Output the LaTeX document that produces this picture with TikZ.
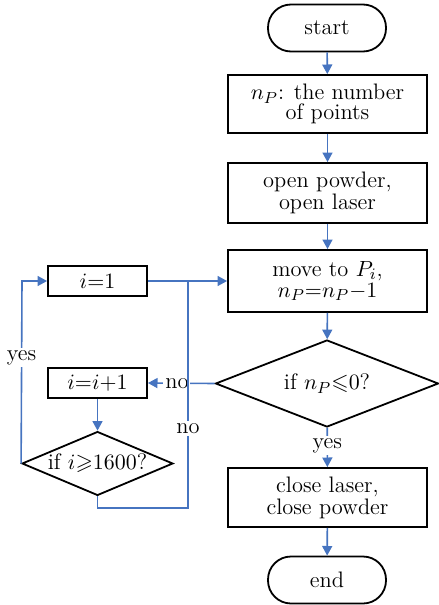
\documentclass[tikz,border=0pt]{standalone}
\usepackage{amssymb}
\usetikzlibrary{shapes.geometric,arrows.meta}
\definecolor{flow}{RGB}{70,116,192}
\begin{document}
\begin{tikzpicture}[x=0.5pt,y=-0.5pt,
  every node/.style={font=\fontsize{11.2}{9.8}\selectfont,align=center,inner sep=0pt},
  term/.style={draw,line width=0.9pt,rounded corners=11.5pt,minimum width=59pt,minimum height=23.5pt},
  proc/.style={draw,line width=0.9pt,minimum width=99.5pt},
  smallproc/.style={draw,line width=0.9pt,minimum width=49.5pt,minimum height=15pt},
  decide/.style={draw,line width=0.9pt,diamond,aspect=2.2},
  link/.style={draw=flow,line width=0.8pt},
  arr/.style={link,-{Triangle[width=5pt,length=4.8pt]}},
  lbl/.style={fill=white,inner sep=1pt}]
\useasboundingbox (0,0) rectangle (439,605);
\node[term] (start) at (327,28) {start};
\node[proc,minimum height=29pt] (np) at (327.5,104) {$n_{P}$: the number\\of points};
\node[proc,minimum height=30pt] (open) at (327.5,193) {open powder,\\open laser};
\node[proc,minimum height=31pt,font=\fontsize{11.2}{10.4}\selectfont] (move) at (327.5,281) {move to $P_{i}$,\\$n_{P}{=}n_{P}{-}1$};
\node[decide,minimum width=111.5pt,minimum height=43.5pt] (d1) at (327,383.5) {if $n_{P}{\leqslant}0$?};
\node[proc,minimum height=29.5pt] (close) at (327.5,497.5) {close laser,\\close powder};
\node[term] (end) at (327,580) {end};
\node[smallproc] (i1) at (97.5,281) {$i{=}1$};
\node[smallproc] (inc) at (97.5,383) {$i{=}i{+}1$};
\node[decide,minimum width=75.5pt,minimum height=29.5pt] (d2) at (97.5,463.5) {if $i{\geqslant}1600$?};
\coordinate (j) at (188,281);
\coordinate (c1) at (188,508);
\coordinate (c2) at (22,281);
\draw[arr] (start) -- (np);
\draw[arr] (np) -- (open);
\draw[arr] (open) -- (move);
\draw[arr] (move) -- (d1);
\draw[arr] (d1) -- node[lbl,pos=0.45]{yes} (close);
\draw[arr] (close) -- (end);
\draw[arr] (d1.west) -- node[lbl,pos=0.565]{no} (inc.east);
\draw[arr] (i1.east) -- (move.west);
\draw[arr] (inc) -- (d2);
\draw[link] (d2.south) |- (c1) -- node[lbl,pos=0.35]{no} (j);
\draw[arr] (d2.west) -- node[lbl,pos=0.58]{yes} (c2) -- (i1.west);
\end{tikzpicture}
\end{document}
